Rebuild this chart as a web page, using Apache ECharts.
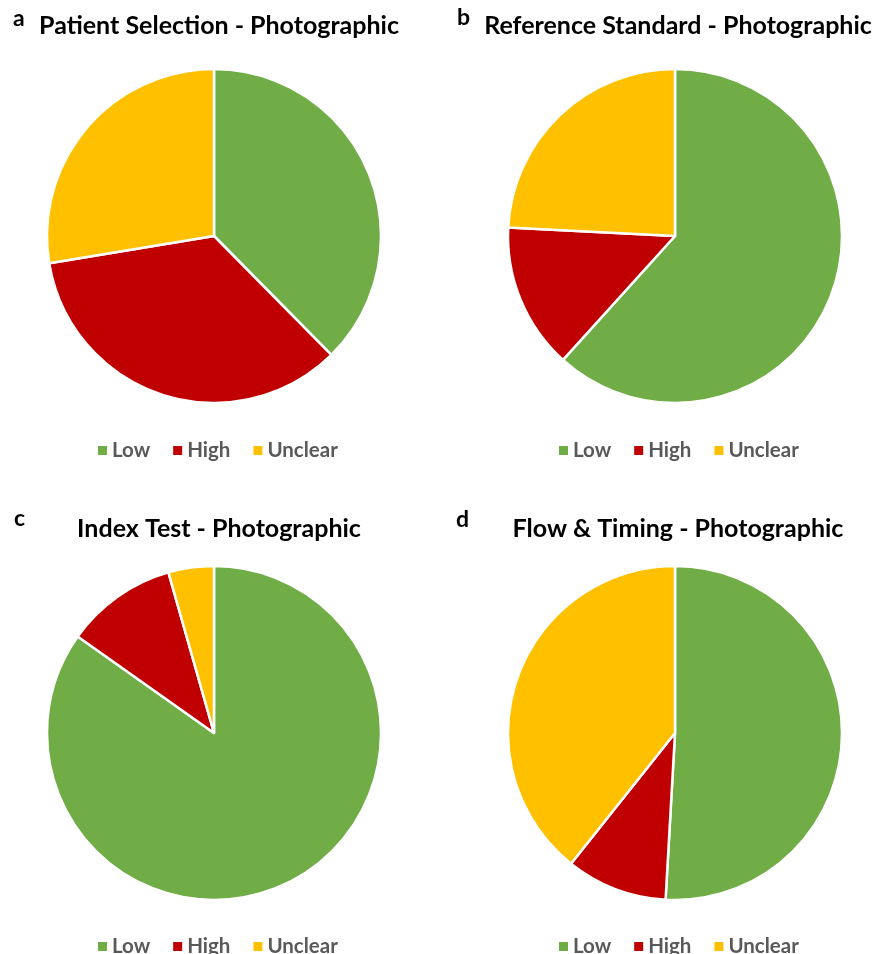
<!DOCTYPE html>
<html>
<head>
<meta charset="utf-8">
<title>Photographic risk of bias</title>
<script src="https://cdn.jsdelivr.net/npm/echarts@6/dist/echarts.min.js"></script>
</head>
<body style="margin:0;background:#fff;">
<div id="main" style="width:873px;height:954px;"></div>
<script type="text/javascript">
    // risk categories and colours
    var categories = ['Low', 'High', 'Unclear'];
    var colors = ['#70AD47', '#C00000', '#FFC000'];

    // panel titles
    var panelLetters = ['a', 'b', 'c', 'd'];
    var panelTitles = ['Patient Selection - Photographic', 'Reference Standard - Photographic',
        'Index Test - Photographic', 'Flow & Timing - Photographic'];

    // share of studies per panel in % (Low, High, Unclear)
    var patientSelection = [37.6, 34.8, 27.6];
    var referenceStandard = [61.7, 14.1, 24.2];
    var indexTest = [84.8, 10.8, 4.4];
    var flowTiming = [50.9, 9.8, 39.3];

    var panelValues = [patientSelection, referenceStandard, indexTest, flowTiming];

    var centers = [[214, 236], [675, 236], [214, 733], [675, 733]];
    var titleCenters = [[214, 23], [673, 23], [214, 526], [673, 526]];
    var letterPos = [[8, 2], [452, 1], [9, 502], [451, 503]];
    var legendTops = [435, 435, 931, 931];

    var font = 'Lato';

    var titles = [];
    var legends = [];
    var series = [];
    panelValues.forEach(function (vals, i) {
        titles.push({
            text: panelTitles[i],
            left: titleCenters[i][0],
            top: titleCenters[i][1] - 15,
            textAlign: 'center',
            textStyle: {fontFamily: font, fontWeight: 'bold', fontSize: 25, color: '#000'}
        });
        titles.push({
            text: panelLetters[i],
            left: letterPos[i][0],
            top: letterPos[i][1],
            textStyle: {fontFamily: font, fontWeight: 'bold', fontSize: 23, color: '#000'}
        });
        legends.push({
            data: categories,
            left: centers[i][0] - 123,
            top: legendTops[i],
            itemWidth: 11,
            itemHeight: 11,
            itemGap: 21,
            icon: 'rect',
            selectedMode: false,
            textStyle: {fontFamily: font, fontWeight: 'bold', fontSize: 20.5, color: '#595959', padding: [0, 0, 0, -1]}
        });
        series.push({
            type: 'pie',
            center: centers[i],
            radius: 167,
            startAngle: 90,
            clockwise: true,
            label: {show: false},
            labelLine: {show: false},
            emphasis: {disabled: true},
            itemStyle: {borderColor: '#fff', borderWidth: 2.5},
            data: vals.map(function (v, k) {
                return {name: categories[k], value: v, itemStyle: {color: colors[k]}};
            })
        });
    });

    var myChart = echarts.init(document.getElementById('main'));
    myChart.setOption({
        animation: false,
        color: colors,
        title: titles,
        legend: legends,
        series: series
    });
</script>
</body>
</html>
